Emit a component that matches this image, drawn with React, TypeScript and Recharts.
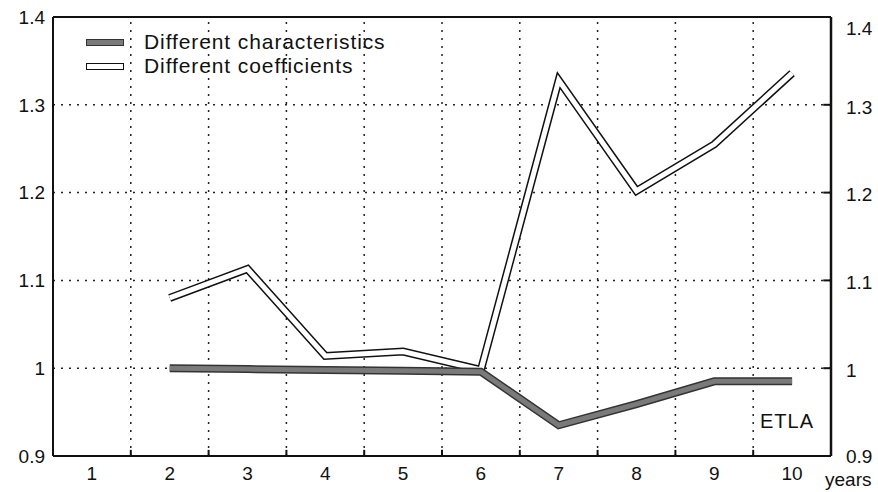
import React from "react";
import {
  LineChart,
  Line,
  XAxis,
  YAxis,
  CartesianGrid,
  ReferenceLine,
  Label,
} from "recharts";

const years = [1, 2, 3, 4, 5, 6, 7, 8, 9, 10];
const characteristics = [null, 1.0, 0.999, 0.998, 0.997, 0.996, 0.935, 0.959, 0.985, 0.985];
const coefficients = [null, 1.08, 1.113, 1.014, 1.019, 0.998, 1.328, 1.202, 1.255, 1.336];
const yTicks = [0.9, 1, 1.1, 1.2, 1.3, 1.4];
const seriesNames = ["Different characteristics", "Different coefficients"];

const data = years.map((y, i) => ({
  year: y,
  characteristics: characteristics[i],
  coefficients: coefficients[i],
}));

// band boundaries between the year columns
const bounds = years.slice(1).map((y) => y - 0.5);

const FONT = "'Liberation Sans', Arial, Helvetica, sans-serif";
const fmt = (v: number) => (v === 1 ? "1" : v.toFixed(1));
const tickStyle = { fill: "#111", fontSize: 19, fontFamily: FONT };

function RightTick(props: any) {
  const { x, y, payload } = props;
  // top label sits a little lower, under the frame
  const shift = payload.value === 1.4 ? 11 : payload.value === 0.9 ? 0 : 2;
  return (
    <text x={x} y={y + shift} dy="0.355em" textAnchor="start" {...tickStyle}>
      {fmt(payload.value)}
    </text>
  );
}

function LegendBox() {
  const swatch = (bg: string, border: string) => (
    <span
      style={{
        display: "inline-block",
        width: 36,
        height: 5,
        background: bg,
        border: `1.5px solid ${border}`,
        marginRight: 20,
      }}
    />
  );
  return (
    <div
      style={{
        position: "absolute",
        left: 86,
        top: 30,
        fontFamily: FONT,
        fontSize: 21,
        color: "#111",
        lineHeight: "24px",
        letterSpacing: 0.9,
      }}
    >
      <div style={{ display: "flex", alignItems: "center" }}>
        {swatch("#7a7a7a", "#333")}
        {seriesNames[0]}
      </div>
      <div style={{ display: "flex", alignItems: "center" }}>
        {swatch("#fff", "#111")}
        {seriesNames[1]}
      </div>
    </div>
  );
}

export default function App() {
  return (
    <div style={{ position: "relative", width: 878, height: 492, background: "#fff" }}>
      <style>{`body{margin:0}`}</style>
      <LineChart
        width={878}
        height={492}
        data={data}
        margin={{ top: 17, right: 0, bottom: 0, left: 0 }}
      >
        <CartesianGrid
          vertical={false}
          stroke="#222"
          strokeWidth={1.5}
          strokeDasharray="2 6"
          yAxisId="left"
        />
        <XAxis
          dataKey="year"
          type="number"
          domain={[0.5, 10.5]}
          ticks={years}
          height={36}
          tickLine={false}
          tickSize={0}
          tickMargin={11}
          axisLine={{ stroke: "#111", strokeWidth: 2 }}
          tick={tickStyle}
        >
          <Label
            value="years"
            position="right"
            offset={-6}
            dy={5}
            style={tickStyle}
          />
        </XAxis>
        <YAxis
          yAxisId="left"
          domain={[0.9, 1.4]}
          ticks={yTicks}
          width={53}
          tickLine={false}
          tickSize={0}
          tickMargin={8}
          tickFormatter={fmt}
          axisLine={{ stroke: "#111", strokeWidth: 2 }}
          tick={tickStyle}
        />
        <YAxis
          yAxisId="right"
          orientation="right"
          domain={[0.9, 1.4]}
          ticks={yTicks}
          width={47}
          tickLine={false}
          tickSize={0}
          tickMargin={15}
          axisLine={{ stroke: "#111", strokeWidth: 2.5 }}
          tick={<RightTick />}
        />
        <ReferenceLine yAxisId="left" y={1.4} stroke="#111" strokeWidth={2} />
        {bounds.map((b) => (
          <ReferenceLine
            key={"g" + b}
            yAxisId="left"
            x={b}
            stroke="#222"
            strokeWidth={1.5}
            strokeDasharray="2 6"
          />
        ))}
        {bounds.map((b) => (
          <ReferenceLine
            key={"t" + b}
            yAxisId="left"
            segment={[
              { x: b, y: 0.9 },
              { x: b, y: 0.907 },
            ]}
            stroke="#111"
            strokeWidth={2}
          />
        ))}
        {yTicks.slice(1, -1).map((t) => (
          <ReferenceLine
            key={"r" + t}
            yAxisId="right"
            segment={[
              { x: 10.4, y: t },
              { x: 10.5, y: t },
            ]}
            stroke="#111"
            strokeWidth={2}
          />
        ))}
        <Line
          yAxisId="left"
          dataKey="coefficients"
          stroke="#111"
          strokeWidth={8}
          strokeLinejoin="miter"
          dot={false}
          activeDot={false}
          legendType="none"
          isAnimationActive={false}
        />
        <Line
          yAxisId="left"
          dataKey="coefficients"
          stroke="#fff"
          strokeWidth={5}
          strokeLinejoin="miter"
          dot={false}
          activeDot={false}
          legendType="none"
          isAnimationActive={false}
        />
        <Line
          yAxisId="left"
          dataKey="characteristics"
          stroke="#333"
          strokeWidth={8}
          strokeLinejoin="miter"
          dot={false}
          activeDot={false}
          legendType="none"
          isAnimationActive={false}
        />
        <Line
          yAxisId="right"
          dataKey="characteristics"
          stroke="#7a7a7a"
          strokeWidth={5}
          strokeLinejoin="miter"
          dot={false}
          activeDot={false}
          legendType="none"
          isAnimationActive={false}
        />
      </LineChart>
      <LegendBox />
      <div
        style={{
          position: "absolute",
          left: 760,
          top: 410,
          fontFamily: FONT,
          fontSize: 20,
          letterSpacing: 1,
          color: "#111",
        }}
      >
        ETLA
      </div>
    </div>
  );
}
